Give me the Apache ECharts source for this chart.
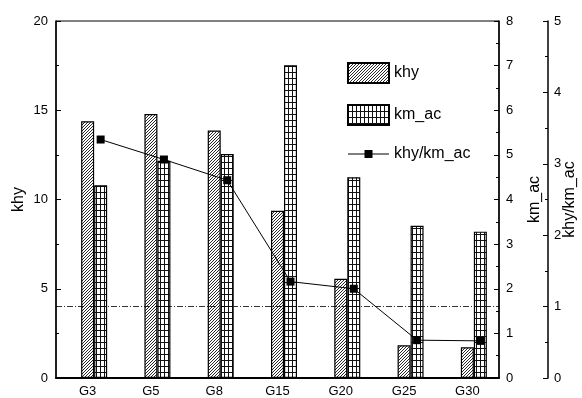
<!DOCTYPE html>
<html>
<head>
<meta charset="utf-8">
<script src="https://cdn.jsdelivr.net/npm/echarts@6/dist/echarts.min.js"></script>
<style>
html,body{margin:0;padding:0;background:#fff;}
#chart{width:582px;height:398px;}
</style>
</head>
<body>
<div id="chart"></div>
<script>
const categories = ['G3','G5','G8','G15','G20','G25','G30'];
const khyValues = [14.38, 14.79, 13.86, 9.37, 5.56, 1.83, 1.72];
const kmAcValues = [4.32, 4.87, 5.02, 7.01, 4.50, 3.41, 3.28];
const ratioValues = [3.34, 3.06, 2.77, 1.35, 1.25, 0.53, 0.52];
const khyThreshold = 4;

function hatchPattern() {
  const c = document.createElement('canvas');
  c.width = 3; c.height = 3;
  const g = c.getContext('2d');
  g.fillStyle = '#fff'; g.fillRect(0,0,3,3);
  g.strokeStyle = '#111'; g.lineWidth = 0.9;
  g.beginPath();
  g.moveTo(-1,4); g.lineTo(4,-1);
  g.moveTo(-1,1); g.lineTo(1,-1);
  g.moveTo(2,4); g.lineTo(4,2);
  g.stroke();
  return c;
}
function gridPattern() {
  const c = document.createElement('canvas');
  c.width = 4; c.height = 6;
  const g = c.getContext('2d');
  g.fillStyle = '#fff'; g.fillRect(0,0,4,6);
  g.strokeStyle = '#111'; g.lineWidth = 1;
  g.beginPath();
  g.moveTo(0.5,0); g.lineTo(0.5,6);
  g.moveTo(0,0.5); g.lineTo(4,0.5);
  g.stroke();
  return c;
}

const font = "'Liberation Sans', Arial, sans-serif";
const chart = echarts.init(document.getElementById('chart'), null, {renderer:'canvas'});

const yCommon = {
  axisLine:{show:true, lineStyle:{color:'#000', width:1.5}},
  axisTick:{show:true, inside:true, length:5, lineStyle:{color:'#000', width:1}},
  minorTick:{show:true, splitNumber:2, length:3, lineStyle:{color:'#000', width:1}},
  axisLabel:{color:'#000', fontSize:13, fontFamily:font},
  splitLine:{show:false},
  nameLocation:'middle',
  nameMoveOverlap:false,
  nameTextStyle:{color:'#000', fontSize:16, fontFamily:font}
};

chart.setOption({
  animation:false,
  backgroundColor:'#fff',
  textStyle:{fontFamily:font},
  grid:[
    {left:56, top:21, right:83, bottom:20, show:true, borderColor:'#000', borderWidth:1, backgroundColor:'transparent', containLabel:false, outerBoundsMode:'none'},
    {left:69, top:21, right:70, bottom:20, show:false, containLabel:false, outerBoundsMode:'none'}
  ],
  legend:{
    orient:'vertical', left:342, top:57,
    itemWidth:41, itemHeight:20, itemGap:20,
    data:[
      {name:'khy', icon:'rect'},
      {name:'km_ac', icon:'rect'},
      {name:'khy/km_ac', icon:'path://M0,9.5H41V10.5H0Z M16.5,6H24.5V14H16.5Z'}
    ],
    textStyle:{color:'#000', fontSize:16, fontFamily:font}
  },
  xAxis:[
    {type:'category', gridIndex:0, data:categories,
     axisLine:{lineStyle:{color:'#000', width:2}},
     axisTick:{show:false},
     axisLabel:{color:'#000', fontSize:13, fontFamily:font, margin:7}},
    {type:'category', gridIndex:1, data:categories, show:false}
  ],
  yAxis:[
    Object.assign({}, yCommon, {type:'value', gridIndex:0, position:'left', min:0, max:20, interval:5, name:'khy', nameGap:29}),
    Object.assign({}, yCommon, {type:'value', gridIndex:0, position:'right', min:0, max:8, interval:1, name:'km_ac', nameGap:28,
      axisLabel:{color:'#000', fontSize:13, fontFamily:font, margin:7}}),
    Object.assign({}, yCommon, {type:'value', gridIndex:0, position:'right', offset:49, min:0, max:5, interval:1, name:'khy/km_ac', nameGap:14,
      axisLabel:{color:'#000', fontSize:13, fontFamily:font, margin:6}}),
    {type:'value', gridIndex:1, min:0, max:8, show:false},
    {type:'value', gridIndex:1, min:0, max:5, show:false}
  ],
  series:[
    {name:'khy', type:'bar', xAxisIndex:0, yAxisIndex:0, data:khyValues, barWidth:13,
     itemStyle:{color:{image:hatchPattern(), repeat:'repeat'}, borderColor:'#000', borderWidth:1.2},
     markLine:{silent:true, symbol:'none', label:{show:false},
       lineStyle:{color:'#000', width:0.8, type:[6,2,1,2]},
       data:[{yAxis:khyThreshold}]}},
    {name:'km_ac', type:'bar', xAxisIndex:1, yAxisIndex:3, data:kmAcValues, barWidth:13,
     itemStyle:{color:{image:gridPattern(), repeat:'repeat'}, borderColor:'#000', borderWidth:1.2}},
    {name:'khy/km_ac', type:'line', xAxisIndex:1, yAxisIndex:4, data:ratioValues,
     symbol:'rect', symbolSize:8, z:5,
     lineStyle:{color:'#000', width:1}, itemStyle:{color:'#000'}}
  ]
});
</script>
</body>
</html>
